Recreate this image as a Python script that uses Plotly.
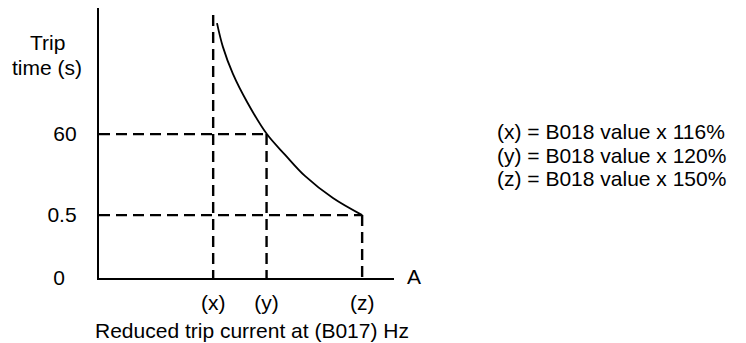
import plotly.graph_objects as go

# schematic axis units (0..100 on both axes)
x_tick_labels = ["(x)", "(y)", "(z)"]
x_tick_pos = [38.7, 56.8, 89.2]
y_tick_labels = ["0<span style='color:rgba(0,0,0,0)'>0</span>", "0.5", "60"]
y_tick_pos = [0, 23.3, 53.3]
x_dash_top = 97.4

# trip curve
curve_x = [40.0, 42.0, 45.4, 50.2, 56.9, 63.1, 69.8, 79.3, 89.2]
curve_y = [94.4, 85.6, 75.6, 65.2, 53.3, 45.6, 37.8, 29.6, 23.3]

legend_lines = ["(x) = B018 value x 116%",
                "(y) = B018 value x 120%",
                "(z) = B018 value x 150%"]

FONT = dict(family="Liberation Sans, Arial, Helvetica, sans-serif", size=21, color="black")
dash = dict(color="black", width=2.4, dash="11px,6px")

fig = go.Figure()

# vertical dashed guides
v_tops = [x_dash_top, y_tick_pos[2], y_tick_pos[1]]
for xp, top in zip(x_tick_pos, v_tops):
    fig.add_trace(go.Scatter(x=[xp, xp], y=[top, 0], mode="lines", line=dash,
                             hoverinfo="skip", cliponaxis=False))
# horizontal dashed guides
for yp, right in zip(y_tick_pos[1:], [x_tick_pos[2], x_tick_pos[1]]):
    fig.add_trace(go.Scatter(x=[0, right], y=[yp, yp], mode="lines", line=dash,
                             hoverinfo="skip", cliponaxis=False))

fig.add_trace(go.Scatter(x=curve_x, y=curve_y, mode="lines", line_shape="spline",
                         line=dict(color="black", width=1.8), hoverinfo="skip"))

fig.update_xaxes(range=[0, 100], showline=True, linecolor="black", linewidth=2.4,
                 showgrid=False, zeroline=False, ticks="",
                 tickvals=x_tick_pos, ticktext=x_tick_labels, tickfont=FONT,
                 ticklabelstandoff=5)
fig.update_yaxes(range=[0, 100], showline=True, linecolor="black", linewidth=2.4,
                 showgrid=False, zeroline=False, ticks="",
                 tickvals=y_tick_pos, ticktext=y_tick_labels, tickfont=FONT,
                 ticklabelstandoff=16)

ann = [
    dict(text="Trip", x=-0.176, y=0.874, xanchor="center", yanchor="middle"),
    dict(text="time (s)", x=-0.176, y=0.781, xanchor="center", yanchor="middle"),
    dict(text="A", x=1.037, y=0.004, xanchor="left", yanchor="middle"),
    dict(text="Reduced trip current at (B017) Hz", x=0.519, y=-0.193,
         xanchor="center", yanchor="middle"),
]
for i, line in enumerate(legend_lines):
    ann.append(dict(text=line, x=1.342, y=0.541 - i * 0.087, xanchor="left", yanchor="middle"))
for a in ann:
    fig.add_annotation(xref="paper", yref="paper", showarrow=False, font=FONT, **a)

# the page body keeps an 8px margin, so everything is shifted by it
fig.update_layout(width=738, height=335, showlegend=False,
                  margin=dict(l=91, r=352, t=0, b=65),
                  plot_bgcolor="white", paper_bgcolor="white")

fig.write_html("out.html")
